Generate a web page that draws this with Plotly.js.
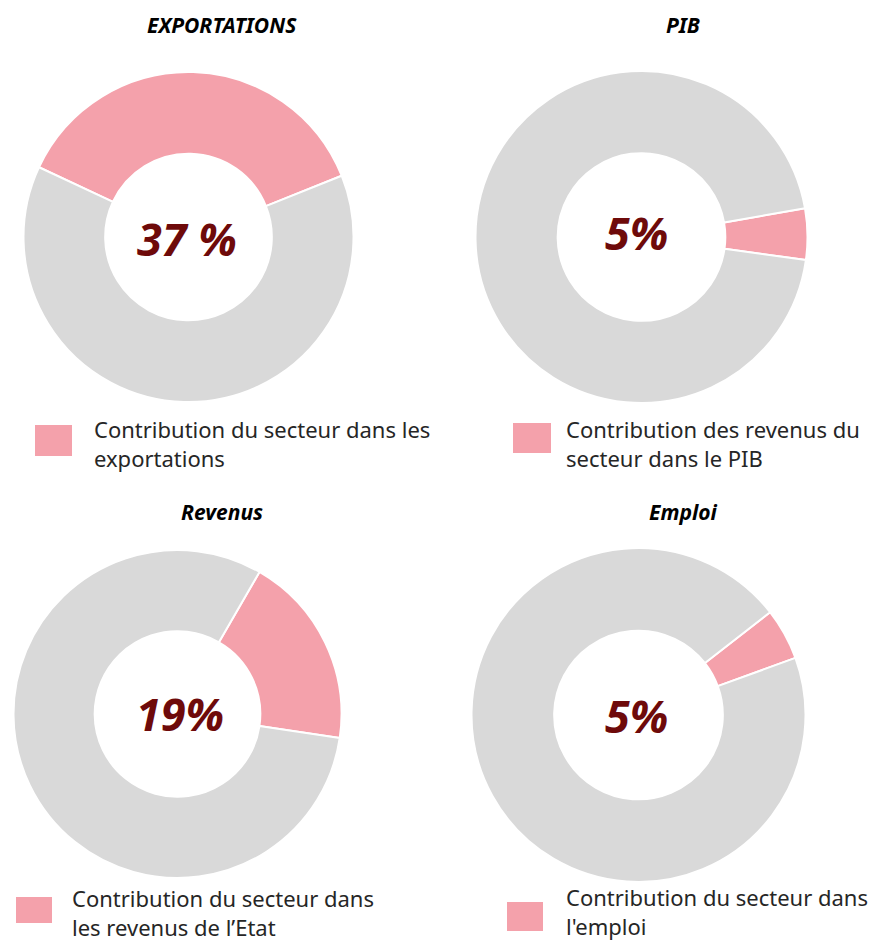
<!DOCTYPE html>
<html>
<head>
<meta charset="utf-8">
<script src="https://cdn.plot.ly/plotly-3.0.1.min.js"></script>
<style>html,body{margin:0;padding:0;background:#fff;}#chart{width:885px;height:943px;}</style>
</head>
<body>
<div id="chart"></div>
<script>
// ---- data ----
var chartTitles = ["EXPORTATIONS", "PIB", "Revenus", "Emploi"];
var sliceLabels = ["Contribution du secteur", "Autres"];
var exportationsValues = [37, 63];
var pibValues = [5, 95];
var revenusValues = [19, 81];
var emploiValues = [5, 95];
var centerLabels = ["37 %", "5%", "19%", "5%"];
var legendLabels = [
  "Contribution du secteur dans les<br>exportations",
  "Contribution des revenus du<br>secteur dans le PIB",
  "Contribution du secteur dans<br>les revenus de l\u2019Etat",
  "Contribution du secteur dans<br>l'emploi"
];

// ---- layout helpers ----
var W = 885, H = 943;
function fx(px) { return px / W; }
function fy(py) { return 1 - py / H; }

var allValues = [exportationsValues, pibValues, revenusValues, emploiValues];
var pies = [
  {cx: 188.5, cy: 237, r: 165, rot: -65},
  {cx: 641.5, cy: 237, r: 166, rot: 80},
  {cx: 177.5, cy: 714, r: 164, rot: 30},
  {cx: 638.5, cy: 715, r: 167, rot: 52}
];
var titlePos = [[221.5, 25], [682.5, 25], [221.5, 512], [682.5, 512]];
var centerPos = [[187, 238], [636, 232], [180, 713], [636, 715]];
var legendBox = [[35, 425, 72, 456], [513, 423, 551, 453], [16, 897, 52, 923], [507, 902, 543, 931]];
var legendText = [[92, 444], [564, 444], [70, 912], [564, 911]];

var PINK = "#F4A1AB", GREY = "#D9D9D9";

var data = [], annotations = [], shapes = [];
for (var i = 0; i < 4; i++) {
  var p = pies[i];
  data.push({
    type: "pie",
    values: allValues[i],
    labels: sliceLabels,
    sort: false,
    direction: "clockwise",
    rotation: p.rot,
    hole: 0.505,
    textinfo: "none",
    hoverinfo: "label+percent",
    showlegend: false,
    marker: {colors: [PINK, GREY], line: {color: "#FFFFFF", width: 2}},
    domain: {x: [fx(p.cx - p.r), fx(p.cx + p.r)], y: [fy(p.cy + p.r), fy(p.cy - p.r)]}
  });
  annotations.push({
    text: "<b><i>" + chartTitles[i] + "</i></b>",
    x: fx(titlePos[i][0]), y: fy(titlePos[i][1]), xref: "paper", yref: "paper",
    xanchor: "center", yanchor: "middle", showarrow: false,
    font: {family: "Noto Sans, sans-serif", size: 21, color: "#000000"}
  });
  annotations.push({
    text: "<b><i>" + centerLabels[i] + "</i></b>",
    x: fx(centerPos[i][0]), y: fy(centerPos[i][1]), xref: "paper", yref: "paper",
    xanchor: "center", yanchor: "middle", showarrow: false,
    font: {family: "Noto Sans, sans-serif", size: 45, color: "#6E0A0A"}
  });
  annotations.push({
    text: legendLabels[i],
    x: fx(legendText[i][0]), y: fy(legendText[i][1]), xref: "paper", yref: "paper",
    xanchor: "left", yanchor: "middle", align: "left", showarrow: false,
    font: {family: "Noto Sans, sans-serif", size: 22, color: "#262626"}
  });
  var b = legendBox[i];
  shapes.push({
    type: "rect", xref: "paper", yref: "paper",
    x0: fx(b[0]), x1: fx(b[2]), y0: fy(b[3]), y1: fy(b[1]),
    fillcolor: PINK, line: {width: 0}
  });
}

var layout = {
  width: W, height: H,
  margin: {l: 0, r: 0, t: 0, b: 0},
  paper_bgcolor: "#FFFFFF",
  plot_bgcolor: "#FFFFFF",
  showlegend: false,
  annotations: annotations,
  shapes: shapes
};
Plotly.newPlot("chart", data, layout, {displayModeBar: false, staticPlot: true});
</script>
</body>
</html>
